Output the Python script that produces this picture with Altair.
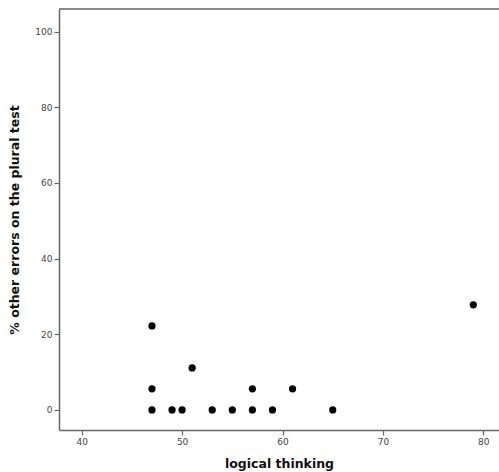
import altair as alt
import pandas as pd

logical = [47, 47, 47, 49, 50, 51, 53, 55, 57, 57, 59, 61, 65, 79]
other_err = [22.2, 5.6, 0, 0, 0, 11.1, 0, 0, 5.6, 0, 0, 5.6, 0, 27.8]

df = pd.DataFrame({"logical thinking": logical, "other": other_err})

W, H = 440, 421

points = alt.Chart(df).mark_circle(size=52, color="black", opacity=1).encode(
    x=alt.X("logical thinking:Q",
            scale=alt.Scale(domain=[37.74, 81.56], nice=False, zero=False),
            axis=alt.Axis(values=[40, 50, 60, 70, 80], title="logical thinking",
                          grid=False, tickSize=5, titlePadding=11)),
    y=alt.Y("other:Q",
            scale=alt.Scale(domain=[-5.3, 106.0], nice=False, zero=False),
            axis=alt.Axis(values=[0, 20, 40, 60, 80, 100],
                          title="% other errors on the plural test",
                          grid=False, tickSize=5, titlePadding=13)),
)

top_border = alt.Chart(df).mark_rule(color="#888888", strokeWidth=1.5).encode(
    x=alt.value(0), x2=alt.value(W), y=alt.value(0)
)

chart = alt.layer(points, top_border).properties(
    width=W, height=H,
    autosize=alt.AutoSizeParams(type="none"),
    padding={"left": 59, "top": 9, "right": 0, "bottom": 42},
).configure_view(stroke=None).configure_axis(
    domainColor="#666666", domainWidth=1.5,
    tickColor="#666666", tickWidth=1.2,
    labelFont="DejaVu Sans", labelFontSize=9, labelColor="#444444", labelPadding=2,
    titleFont="DejaVu Sans", titleFontSize=12.5, titleFontWeight="bold", titleColor="#111111",
)

chart.save("out.html", embed_options={"renderer": "svg", "actions": False})
